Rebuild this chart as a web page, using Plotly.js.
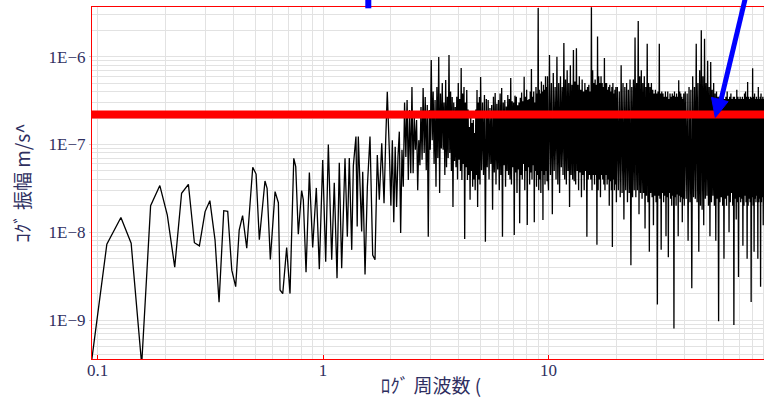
<!DOCTYPE html>
<html>
<head>
<meta charset="utf-8">
<script src="https://cdn.plot.ly/plotly-3.0.1.min.js"></script>
<style>
  html, body { margin: 0; padding: 0; overflow: hidden; background: #ffffff; }
  #chart { width: 770px; height: 398px; }
</style>
</head>
<body>
<div id="chart"></div>
<script>
// ---- Data (frequency in Hz, amplitude in 1e-9 m/s^2) ----
const freqLow = [0.094,0.110,0.127,0.141,0.157,0.172,0.189,0.204,0.220,0.236,0.253,0.269,0.283,0.300,0.315,0.332,0.346,0.363,0.378,0.394,0.410,0.425,0.440,0.459,0.488,0.505,0.522,0.553,0.565,0.584,0.613,0.634,0.645,0.663,0.690,0.714,0.742,0.757,0.777,0.804,0.818,0.841,0.870,0.900,0.934,0.963,0.997,1.028,1.056,1.093,1.122,1.154,1.181,1.21,1.252,1.282,1.308,1.341,1.363,1.40,1.418,1.434,1.484,1.50,1.536,1.573,1.616,1.661,1.701,1.741,1.777,1.822,1.865,1.897,1.928,1.968];
const ampLow  = [0.33,7.3,14.7,7.5,0.31,20.1,34,15.7,4.0,27.8,35.2,7.6,7.0,17.2,22.9,8.2,1.6,17.6,17.3,3.7,2.4,10.6,15.5,6.6,55,46,8.2,38.4,31.7,4.9,29,21.7,2.2,2.0,6.7,2.0,69.6,55.8,9.5,29.8,23.4,3.5,48,6.7,32,3.8,66.7,4.6,100,4.85,36.7,3.0,62,3.9,69.6,8.9,70,6.3,57,123,11.6,123,10.2,49,3.3,33,123,5.5,4.85,76,23.4,103,21.4,112,399,87];

const freqB1 = [2.00,2.03,2.06,2.09,2.12,2.15,2.18,2.21,2.24,2.27,2.30,2.33,2.36,2.39,2.42,2.45,2.48,2.51,2.54,2.57,2.60,2.63,2.66,2.69,2.72,2.75,2.78,2.81,2.84,2.87,2.90,2.93,2.96,2.99];
const ampB1  = [20,112,13,94,19.4,72,140,9.8,87,33,300,72,320,39.5,247,47,452,47,206,87,190,30,112,58,267,67,440,80,347,51,281,8.9,247,87];

const freqB2 = [3.02,3.05,3.08,3.11,3.14,3.17,3.20,3.23,3.26,3.29,3.32,3.35,3.38,3.41,3.44,3.47,3.50,3.53,3.56,3.59,3.62,3.65,3.68,3.71,3.74,3.77,3.80,3.83,3.86,3.89,3.92,3.95,3.98,4.01,4.04,4.07,4.10,4.13,4.16,4.19,4.22,4.25,4.28,4.31,4.34,4.37,4.40,4.43,4.46,4.49,4.52,4.55,4.58,4.61,4.64,4.67,4.70,4.73,4.76,4.79,4.82,4.85,4.88,4.91,4.94,4.97];
const ampB2  = [917,112,400,60,321,33,450,70,990,28,380,90,501,87,300,45,543,55,350,70,1045,80,400,50,347,19.4,300,65,267,55,350,40,500,67,330,50,743,39.5,380,60,452,8.4,300,55,418,39.5,250,45,158,23.4,200,50,176,33,190,40,135,30,250,45,418,19.4,300,40,347,35];

const freqB3 = [5.00,5.05,5.10,5.15,5.20,5.25,5.30,5.35,5.40,5.45,5.50,5.55,5.60,5.65,5.70,5.75,5.80,5.85,5.90,5.95,6.00,6.05,6.10,6.15,6.20,6.25,6.30,6.35,6.40,6.45,6.50,6.55,6.60,6.65,6.70,6.75,6.80,6.85,6.90,6.95,7.00,7.05,7.10,7.15,7.20,7.25,7.30,7.35,7.40,7.45,7.50,7.55,7.60,7.65,7.70,7.75,7.80,7.85,7.90,7.95,8.00,8.05,8.10,8.15,8.20,8.25,8.30,8.35,8.40,8.45,8.50,8.55,8.60,8.65,8.70,8.75,8.80,8.85,8.90,8.95,9.00,9.05,9.10,9.15,9.20,9.25,9.30,9.35,9.40,9.45,9.50,9.55,9.60,9.65,9.70,9.75,9.80,9.85,9.90,9.95];
const ampB3  = [587,51,300,45,366,7.8,330,55,321,40,260,60,281,18,350,48,386,35,290,52,321,30,380,45,440,8.9,300,58,321,33,270,50,366,45,330,40,572,35,310,55,300,9.3,360,48,350,28,280,52,300,12.7,340,45,390,40,310,60,590,30,350,50,420,12.1,320,55,330,35,400,48,724,40,350,58,400,13,300,50,450,33,380,45,3590,30,420,40,380,28,520,50,400,13.8,480,45,420,35,600,50,450,38,600,42];

const freqB4 = [10.0,10.1,10.2,10.3,10.4,10.5,10.6,10.7,10.8,10.9,11.0,11.1,11.2,11.3,11.4,11.5,11.6,11.7,11.8,11.9,12.0,12.1,12.2,12.3,12.4,12.5,12.6,12.7,12.8,12.9,13.0,13.1,13.2,13.3,13.4,13.5,13.6,13.7,13.8,13.9,14.0,14.1,14.2,14.3,14.4,14.5,14.6,14.7,14.8,14.9,15.0,15.1,15.2,15.3,15.4,15.5,15.6,15.7,15.8,15.9,16.0,16.1,16.2,16.3,16.4,16.5,16.6,16.7,16.8,16.9,17.0,17.1,17.2,17.3,17.4,17.5,17.6,17.7,17.8,17.9,18.0,18.1,18.2,18.3,18.4,18.5,18.6,18.7,18.8,18.9,19.0,19.1,19.2,19.3,19.4,19.5,19.6,19.7,19.8,19.9];
const ampB4  = [30,1045,45,500,16,650,50,450,40,1000,35,500,28,600,55,450,45,1430,40,550,35,700,50,500,19.4,800,45,480,40,1190,38,520,35,1250,50,480,30,600,48,420,25,550,45,400,30,500,50,420,8.9,450,40,480,45,400,40,3650,30,700,45,500,35,550,45,480,7.2,1700,30,600,40,500,25,600,45,500,40,450,35,966,30,500,45,500,35,420,40,450,20,480,38,400,30,450,6.8,500,40,380,30,420,35,450];

const freqB5 = [20.0,20.2,20.4,20.6,20.8,21.0,21.2,21.4,21.6,21.8,22.0,22.2,22.4,22.6,22.8,23.0,23.2,23.4,23.6,23.8,24.0,24.2,24.4,24.6,24.8,25.0,25.2,25.4,25.6,25.8,26.0,26.2,26.4,26.6,26.8,27.0,27.2,27.4,27.6,27.8,28.0,28.2,28.4,28.6,28.8,29.0,29.2,29.4,29.6,29.8,30.0,30.2,30.4,30.6,30.8,31.0,31.2,31.4,31.6,31.8,32.0,32.2,32.4,32.6,32.8,33.0,33.2,33.4,33.6,33.8,34.0,34.2,34.4,34.6,34.8,35.0,35.2,35.4,35.6,35.8,36.0,36.2,36.4,36.6,36.8,37.0,37.2,37.4,37.6,37.8,38.0,38.2,38.4,38.6,38.8,39.0,39.2,39.4,39.6,39.8];
const ampB5  = [22,450,30,400,25,800,28,500,14,450,30,500,22,420,28,550,4.2,450,25,550,30,1650,25,500,30,2550,16,600,28,700,24,500,28,600,11,450,26,1400,22,500,6,450,28,500,25,420,12,380,26,420,22,380,1.5,400,26,1400,24,380,6.3,400,28,380,22,350,26,400,9,350,25,400,5.2,330,28,380,24,350,20,380,26,360,0.8,400,25,350,20,380,27,350,9,540,26,400,22,380,25,350,13,330,24,380];

const freqB6 = [40.0,40.4,40.8,41.2,41.6,42.0,42.4,42.8,43.2,43.6,44.0,44.4,44.8,45.2,45.6,46.0,46.4,46.8,47.2,47.6,48.0,48.4,48.8,49.2,49.6,50.0,50.4,50.8,51.2,51.6,52.0,52.4,52.8,53.2,53.6,54.0,54.4,54.8,55.2,55.6,56.0,56.4,56.8,57.2,57.6,58.0,58.4,58.8,59.2,59.6,60.0,60.4,60.8,61.2,61.6,62.0,62.4,62.8,63.2,63.6,64.0,64.4,64.8,65.2,65.6,66.0,66.4,66.8,67.2,67.6,68.0,68.4,68.8,69.2,69.6,70.0,70.4,70.8,71.2,71.6,72.0,72.4,72.8,73.2,73.6,74.0,74.4,74.8,75.2,75.6,76.0,76.4,76.8,77.2,77.6,78.0,78.4,78.8,79.2,79.6,80.0,80.4,80.8,81.2,81.6,82.0,82.4,82.8,83.2,83.6,84.0,84.4,84.8,85.2,85.6,86.0,86.4,86.8,87.2,87.6,88.0,88.4,88.8,89.2,89.6,90.0,90.4,90.8,91.2,91.6,92.0,92.4,92.8,93.2,93.6,94.0,94.4,94.8,95.2,95.6,96.0];
const ampB6  = [20,400,24,380,8,450,22,420,2.3,600,25,450,24,1400,22,500,6,700,20,2000,18,600,12,1600,24,500,26,900,20,450,9,870,22,420,26,500,20,380,8,400,24,350,0.97,350,22,380,25,330,20,380,5,330,24,350,20,400,26,330,10,350,22,380,28,330,20,350,0.88,350,24,330,14,420,22,350,3.1,330,25,350,22,330,24,350,7,330,20,380,26,400,22,350,5,514,20,350,24,330,22,350,1.6,340,25,740,20,350,6,380,24,330,22,350,26,330,5,452,22,330,24,350,2.4,380,22,330,25,350,12,330,24,350,25,330,20,350,26,330,9,330,22,350,25,300,24];

const NANO = 1e-9;                 // amplitude unit of the arrays above
const thresholdLevel = 2.2e-7;     // red horizontal level, m/s^2

const xTickVals = [0.1, 1, 10];
const xTickText = ['0.1', '1', '10'];
const yTickVals = [1e-9, 1e-8, 1e-7, 1e-6];
const yTickText = ['1E\u22129', '1E\u22128', '1E\u22127', '1E\u22126'];

const xTitle = 'ﾛｸﾞ 周波数 (';
const yTitle = 'ｺｸﾞ 振幅 m/s^';

// ---- Build series ----
const freqParts = [freqLow, freqB1, freqB2, freqB3, freqB4, freqB5, freqB6];
const ampParts  = [ampLow, ampB1, ampB2, ampB3, ampB4, ampB5, ampB6];
const freq = [], amp = [];
freqParts.forEach((fp, i) => {
  const ap = ampParts[i];
  const n = Math.min(fp.length, ap.length);
  for (let j = 0; j < n; j++) { freq.push(fp[j]); amp.push(ap[j] * NANO); }
});

// minor grid positions (2..9 in each decade)
const xMinor = [], yMinor = [];
[0.01, 0.1, 1, 10].forEach(d => { for (let k = 2; k <= 9; k++) xMinor.push(k * d); });
[1e-10, 1e-9, 1e-8, 1e-7, 1e-6].forEach(d => { for (let k = 2; k <= 9; k++) yMinor.push(k * d); });

const labelColor = '#2f2f5f';
const gridColor = '#e2e2e2';

const traces = [
  {
    type: 'scatter', mode: 'lines',
    x: freq, y: amp,
    line: { color: '#000000', width: 1.3, simplify: false },
    hoverinfo: 'skip'
  },
  {
    type: 'scatter', mode: 'lines',
    x: [freq[0] * 0.5, freq[freq.length - 1] * 2],
    y: [thresholdLevel, thresholdLevel],
    line: { color: '#ff0000', width: 8 },
    hoverinfo: 'skip'
  }
];

const layout = {
  width: 770, height: 398,
  margin: { l: 92, r: 0, t: 7, b: 39 },
  paper_bgcolor: '#ffffff', plot_bgcolor: '#ffffff',
  showlegend: false,
  xaxis: {
    type: 'log', range: [-1.0244, 1.9823],
    tickmode: 'array', tickvals: xTickVals, ticktext: xTickText,
    showgrid: true, gridcolor: gridColor, gridwidth: 1,
    minor: { tickmode: 'array', tickvals: xMinor, showgrid: true, gridcolor: gridColor, gridwidth: 1 },
    showline: true, linecolor: '#ff0000', linewidth: 1, mirror: true,
    ticks: 'inside', ticklen: 4, tickcolor: '#ff0000',
    ticklabelstandoff: -4,
    zeroline: false,
    tickfont: { family: 'Liberation Serif, DejaVu Serif, serif', size: 17, color: labelColor },
    title: { text: xTitle, standoff: 0, font: { family: 'Noto Sans CJK JP, sans-serif', size: 19, color: labelColor } }
  },
  yaxis: {
    type: 'log', range: [-9.444, -5.434],
    tickmode: 'array', tickvals: yTickVals, ticktext: yTickText,
    showgrid: true, gridcolor: gridColor, gridwidth: 1,
    minor: { tickmode: 'array', tickvals: yMinor, showgrid: true, gridcolor: gridColor, gridwidth: 1 },
    showline: true, linecolor: '#ff0000', linewidth: 1, mirror: true,
    ticks: 'outside', ticklen: 2, tickcolor: '#cccccc',
    zeroline: false,
    tickfont: { family: 'Liberation Serif, DejaVu Serif, serif', size: 17, color: labelColor },
    title: { text: yTitle, standoff: 12, font: { family: 'Noto Sans CJK JP, sans-serif', size: 19, color: labelColor } }
  },
  shapes: [
    { type: 'line', xref: 'paper', yref: 'paper', x0: 0.40752, y0: 1.0199, x1: 0.40752, y1: 0.9963,
      line: { color: '#0000ff', width: 6 } },
    { type: 'line', xref: 'paper', yref: 'paper', x0: 0.96755, y0: 1.05682, x1: 0.92699, y1: 0.73011,
      line: { color: '#0000ff', width: 5 } },
    { type: 'path', xref: 'paper', yref: 'paper',
      path: 'M 0.91932 0.68608 L 0.93820 0.73125 L 0.91372 0.74318 Z',
      fillcolor: '#0000ff', line: { color: '#0000ff', width: 1 } }
  ]
};

Plotly.newPlot('chart', traces, layout, { staticPlot: true, displayModeBar: false });
</script>
</body>
</html>
